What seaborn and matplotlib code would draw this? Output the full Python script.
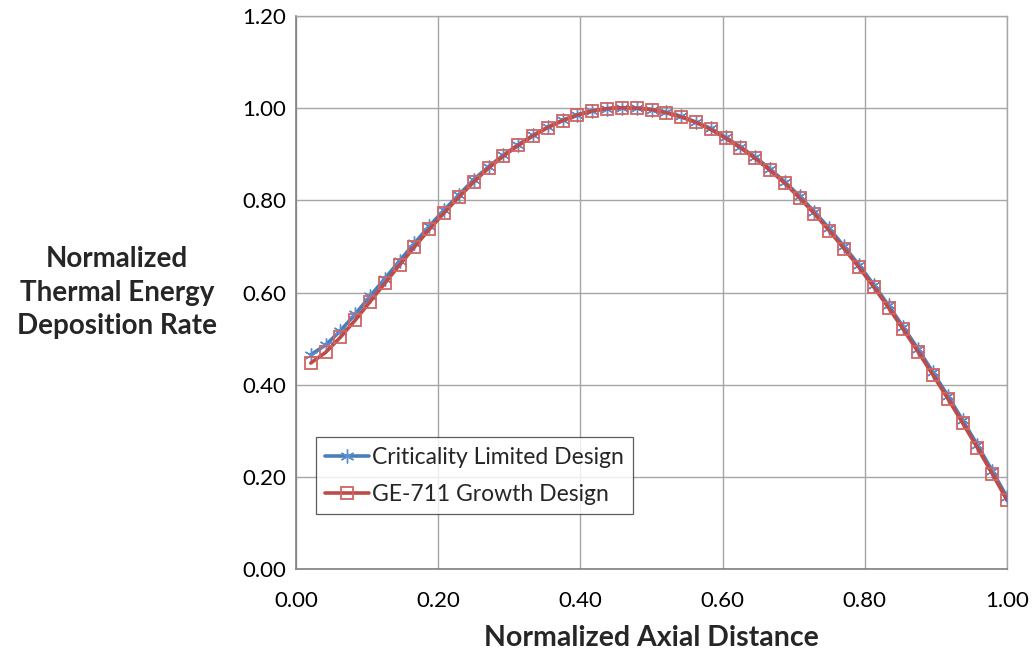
import matplotlib
matplotlib.use("Agg")
import matplotlib.pyplot as plt
import seaborn as sns
import pandas as pd
import numpy as np
from matplotlib.ticker import FormatStrFormatter

# ---- data ----
n_points = 48
axial = [(i + 1) / n_points for i in range(n_points)]

criticality = [0.465, 0.486, 0.517, 0.553, 0.592, 0.630, 0.669, 0.707, 0.744, 0.779,
               0.812, 0.845, 0.873, 0.898, 0.921, 0.941, 0.959, 0.974, 0.986, 0.994,
               0.999, 1.001, 1.000, 0.997, 0.991, 0.982, 0.970, 0.956, 0.937, 0.916,
               0.894, 0.868, 0.840, 0.809, 0.775, 0.739, 0.700, 0.660, 0.617, 0.572,
               0.525, 0.477, 0.427, 0.376, 0.323, 0.269, 0.213, 0.156]

growth = [0.447, 0.470, 0.503, 0.540, 0.580, 0.620, 0.660, 0.699, 0.737, 0.773,
          0.807, 0.840, 0.870, 0.896, 0.919, 0.940, 0.958, 0.973, 0.985, 0.994,
          0.999, 1.001, 1.000, 0.997, 0.990, 0.981, 0.969, 0.954, 0.935, 0.914,
          0.891, 0.865, 0.837, 0.805, 0.771, 0.734, 0.695, 0.655, 0.612, 0.567,
          0.520, 0.471, 0.421, 0.370, 0.317, 0.263, 0.207, 0.149]

series_names = ["Criticality Limited Design", "GE-711 Growth Design"]
x_ticks = [0.0, 0.2, 0.4, 0.6, 0.8, 1.0]
y_ticks = [0.0, 0.2, 0.4, 0.6, 0.8, 1.0, 1.2]

sns.set_theme(style="white")
plt.rcParams['font.family'] = ['Lato', 'DejaVu Sans']

fig = plt.figure(figsize=(10.32, 6.53), dpi=100)
ax = fig.add_axes([0.2868, 0.1286, 0.6890, 0.8469])

df1 = pd.DataFrame({"x": axial, "y": criticality})
df2 = pd.DataFrame({"x": axial, "y": growth})

blue = "#4A7EBB"
red = "#BE4B48"

sns.lineplot(data=df1, x="x", y="y", ax=ax, color=blue, linewidth=2.6,
             marker=(6, 2, 0), markersize=10, markeredgewidth=1.0,
             markeredgecolor="#5B8ED0", label=series_names[0], zorder=3)
sns.lineplot(data=df2, x="x", y="y", ax=ax, color=red, linewidth=2.6,
             marker="s", markersize=8.5, markerfacecolor="none",
             markeredgewidth=1.3, markeredgecolor="#D06562",
             label=series_names[1], zorder=4)

ax.set_xlim(0, 1.0)
ax.set_ylim(0, 1.2)
ax.set_xticks(x_ticks)
ax.set_yticks(y_ticks)
ax.xaxis.set_major_formatter(FormatStrFormatter("%.2f"))
ax.yaxis.set_major_formatter(FormatStrFormatter("%.2f"))
ax.tick_params(axis="y", labelsize=16, colors="black", length=0, pad=7)
ax.tick_params(axis="x", labelsize=16, colors="black", length=0, pad=16)
ax.grid(True, color="#A6A6A6", linewidth=1.0)
ax.set_axisbelow(True)

for side in ["top", "right"]:
    ax.spines[side].set_color("#A6A6A6")
    ax.spines[side].set_linewidth(1.0)
for side in ["left", "bottom"]:
    ax.spines[side].set_color("#808080")
    ax.spines[side].set_linewidth(1.2)

ax.set_xlabel("Normalized Axial Distance", fontsize=20.5, fontweight="bold", labelpad=10)
ax.set_ylabel("Normalized\nThermal Energy\nDeposition Rate", fontsize=20,
              fontweight="bold", rotation=0, ha="center", va="center",
              linespacing=1.38)
ax.yaxis.set_label_coords(-0.252, 0.50)

leg = ax.legend(loc="lower left", bbox_to_anchor=(0.028, 0.099), fontsize=16.5,
                frameon=True, fancybox=False, edgecolor="#333333",
                numpoints=1, handlelength=1.9, handletextpad=0.15, borderpad=0.4,
                labelspacing=0.72, borderaxespad=0)
leg.get_frame().set_linewidth(0.9)

fig.savefig("out.png", dpi=100)
